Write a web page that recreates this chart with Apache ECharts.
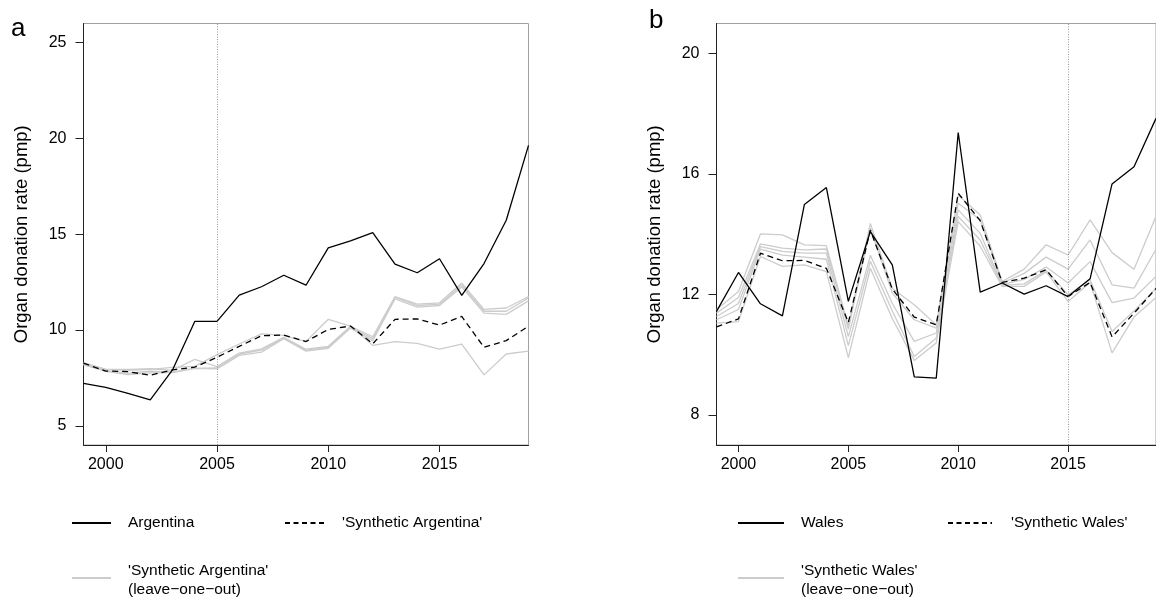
<!DOCTYPE html>
<html>
<head>
<meta charset="utf-8">
<script src="https://cdn.jsdelivr.net/npm/echarts@6/dist/echarts.min.js"></script>
<style>
  html, body { margin: 0; padding: 0; background: #fff; }
  #chart { width: 1156px; height: 600px; }
</style>
</head>
<body>
<div id="chart"></div>
<script>
// Years shown on both panels
const years = [1999, 2000, 2001, 2002, 2003, 2004, 2005, 2006, 2007, 2008, 2009,
               2010, 2011, 2012, 2013, 2014, 2015, 2016, 2017, 2018, 2019];

// Panel a: Argentina (pmp)
const argentina = [7.22, 7.01, 6.70, 6.35, 7.92, 10.45, 10.45, 11.82, 12.26, 12.86, 12.34,
                   14.29, 14.65, 15.09, 13.44, 12.99, 13.72, 11.81, 13.47, 15.73, 19.64];
const synthArgentina = [8.27, 7.86, 7.83, 7.64, 7.92, 8.06, 8.58, 9.15, 9.70, 9.74, 9.40,
                        10.03, 10.21, 9.28, 10.56, 10.58, 10.26, 10.71, 9.10, 9.45, 10.20];
const looArgentina = [
  [8.25, 7.95, 7.90, 7.95, 8.05, 8.10, 8.72, 9.27, 9.80, 9.72, 9.40, 10.56, 10.20, 9.20, 9.40, 9.30, 9.00, 9.27, 7.66, 8.75, 8.90],
  [8.30, 7.95, 7.95, 7.98, 7.90, 8.47, 8.09, 8.80, 9.02, 9.62, 9.00, 9.15, 10.20, 9.65, 11.75, 11.35, 11.42, 12.45, 11.08, 11.15, 11.75],
  [8.22, 7.88, 7.75, 7.85, 7.80, 8.00, 8.02, 8.75, 8.95, 9.58, 8.95, 9.10, 10.15, 9.55, 11.70, 11.28, 11.35, 12.35, 10.98, 10.98, 11.68],
  [8.18, 7.85, 7.68, 7.76, 7.78, 8.00, 7.97, 8.68, 8.85, 9.55, 8.90, 9.05, 10.10, 9.45, 11.62, 11.20, 11.28, 12.25, 10.88, 10.82, 11.52]
];

// Panel b: Wales (pmp)
const wales = [11.44, 12.73, 11.69, 11.29, 14.99, 15.55, 11.77, 14.09, 12.98, 9.26, 9.22,
               17.38, 12.08, 12.38, 12.01, 12.29, 11.93, 12.52, 15.67, 16.24, 17.85];
const synthWales = [10.92, 11.19, 13.37, 13.12, 13.13, 12.87, 11.07, 14.14, 12.18, 11.25, 10.99,
                    15.36, 14.45, 12.40, 12.54, 12.82, 11.93, 12.40, 10.59, 11.38, 12.20];
const looWales = [
  [11.49, 12.10, 14.01, 13.98, 13.65, 13.62, 10.95, 14.36, 12.20, 11.66, 10.99, 15.30, 14.64, 12.43, 12.84, 13.65, 13.31, 14.48, 13.39, 12.84, 14.60],
  [11.38, 11.90, 13.68, 13.54, 13.48, 13.51, 10.85, 14.20, 12.05, 11.16, 10.88, 15.03, 14.48, 12.38, 12.70, 13.24, 12.84, 13.81, 12.32, 12.21, 13.50],
  [11.27, 11.70, 13.59, 13.43, 13.37, 13.37, 10.60, 13.30, 11.70, 10.44, 10.72, 14.81, 14.03, 12.33, 12.50, 12.91, 12.38, 13.09, 11.73, 11.88, 12.60],
  [11.16, 11.50, 13.51, 13.31, 13.24, 13.17, 10.30, 13.10, 11.45, 9.94, 10.55, 14.59, 13.81, 12.30, 12.35, 12.80, 11.99, 12.49, 10.77, 11.45, 12.20],
  [11.05, 11.10, 13.26, 12.93, 12.98, 12.76, 9.90, 12.87, 11.20, 9.81, 10.39, 14.42, 13.60, 12.27, 12.27, 12.75, 11.77, 12.40, 10.06, 11.25, 11.90]
];

// Axis ticks
const xTicks = [2000, 2005, 2010, 2015];
const yTicksA = [5, 10, 15, 20, 25];
const yTicksB = [8, 12, 16, 20];

// Intervention years
const interventionA = 2005;
const interventionB = 2015;

const FONT = '"Liberation Sans", Helvetica, Arial, sans-serif';
const GREY = '#cccccc';
const pairs = vals => years.map((y, i) => [y, vals[i]]);

function xAxisFor(gridIndex) {
  return {
    type: 'value', gridIndex, min: 1999, max: 2019,
    axisLine: { show: true, onZero: false, lineStyle: { color: '#222', width: 1 } },
    axisTick: { show: true, customValues: xTicks, length: 7, lineStyle: { color: '#222' } },
    axisLabel: { customValues: xTicks, formatter: v => String(v), fontSize: 16, color: '#000', margin: 12, fontFamily: FONT },
    splitLine: { show: false }
  };
}
function yAxisFor(gridIndex, min, max, ticks) {
  return {
    type: 'value', gridIndex, min, max,
    name: 'Organ donation rate (pmp)', nameLocation: 'middle', nameGap: 52,
    nameTextStyle: { fontSize: 18.5, color: '#000', fontFamily: FONT },
    axisLine: { show: true, onZero: false, lineStyle: { color: '#222', width: 1 } },
    axisTick: { show: true, customValues: ticks, length: 8, lineStyle: { color: '#222' } },
    axisLabel: { customValues: ticks, formatter: v => String(v), fontSize: 16, color: '#000', margin: 17, fontFamily: FONT },
    splitLine: { show: false }
  };
}
function lineSeries(idx, vals, color, type, z) {
  return {
    type: 'line', xAxisIndex: idx, yAxisIndex: idx, data: pairs(vals),
    symbol: 'none', silent: true, z,
    lineStyle: { color, width: 1.3, type }
  };
}
function panelSeries(idx, main, synth, loo, markYear, ymin, ymax) {
  const s = loo.map(v => lineSeries(idx, v, GREY, 'solid', 2));
  // dotted marker at the intervention year
  s.push({
    type: 'line', xAxisIndex: idx, yAxisIndex: idx, data: [],
    markLine: {
      silent: true, symbol: 'none', label: { show: false },
      lineStyle: { color: '#999', type: [1, 1.5], width: 1 },
      data: [[{ coord: [markYear, ymin] }, { coord: [markYear, ymax] }]]
    }
  });
  s.push(lineSeries(idx, synth, '#000', [6, 4], 3));
  s.push(lineSeries(idx, main, '#000', 'solid', 4));
  return s;
}

// Legend drawn as plain graphics under each panel
function legend(x0, lineLen, xDash, lineLenDash, xText2, name, synthName) {
  const tx = x0 + lineLen + 17;
  const t = (text, x, y) => ({
    type: 'text', x, y,
    style: { text, font: '15.5px ' + FONT, fill: '#000', align: 'left', verticalAlign: 'middle', lineHeight: 19 }
  });
  const ln = (x1, x2, y, stroke, dash) => ({
    type: 'line', shape: { x1, y1: y, x2, y2: y },
    style: { stroke, lineWidth: 2, lineDash: dash || null }
  });
  return [
    ln(x0, x0 + lineLen, 523, '#000'),
    t(name, tx, 523),
    ln(xDash, xDash + lineLenDash, 523, '#000', [5, 3.5]),
    t(synthName, xText2, 523),
    ln(x0, x0 + lineLen, 578, GREY),
    t(synthName + '\n(leave\u2212one\u2212out)', tx, 580)
  ];
}

const chart = echarts.init(document.getElementById('chart'), null, { renderer: 'canvas' });
chart.setOption({
  animation: false,
  backgroundColor: '#fff',
  textStyle: { fontFamily: FONT },
  grid: [
    { left: 83.5, top: 23.5, width: 445, height: 421.5, show: true, borderColor: '#a0a0a0', borderWidth: 1, backgroundColor: 'transparent' },
    { left: 716.5, top: 23.5, width: 444.5, height: 421.5, show: true, borderColor: '#a0a0a0', borderWidth: 1, backgroundColor: 'transparent' }
  ],
  xAxis: [xAxisFor(0), xAxisFor(1)],
  yAxis: [yAxisFor(0, 4, 26, yTicksA), yAxisFor(1, 7, 21, yTicksB)],
  series: [
    ...panelSeries(0, argentina, synthArgentina, looArgentina, interventionA, 4, 26),
    ...panelSeries(1, wales, synthWales, looWales, interventionB, 7, 21)
  ],
  graphic: [
    { type: 'text', x: 11, y: 16, style: { text: 'a', font: '26px ' + FONT, fill: '#000' } },
    { type: 'text', x: 649, y: 8, style: { text: 'b', font: '26px ' + FONT, fill: '#000' } },
    ...legend(72, 39, 285, 40, 342, 'Argentina', "'Synthetic Argentina'"),
    ...legend(738, 46, 948, 44, 1011, 'Wales', "'Synthetic Wales'")
  ]
});
</script>
</body>
</html>
